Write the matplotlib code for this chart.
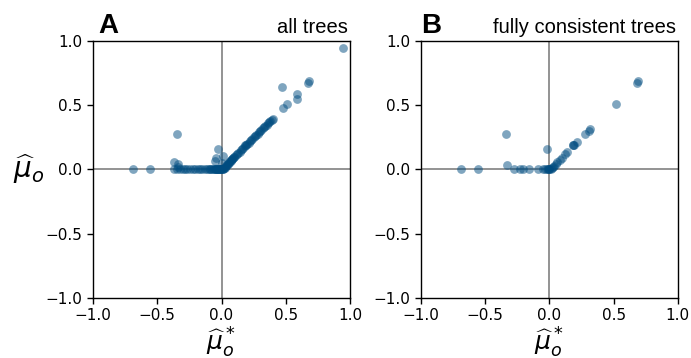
import matplotlib
matplotlib.use("Agg")
import matplotlib.pyplot as plt

# Panel A: all trees
a_x = [-0.69, -0.556, -0.367, -0.345, -0.323, -0.30, -0.284, -0.265, -0.245, -0.225,
       -0.206, -0.185, -0.167, -0.15, -0.128, -0.11, -0.10, -0.09, -0.08, -0.07,
       -0.06, -0.05, -0.045, -0.04, -0.035, -0.03, -0.025, -0.02, -0.015, -0.01,
       -0.005, 0.0,
       -0.344, -0.367, -0.336, -0.025, -0.043, -0.05, 0.009, -0.34, 0.0,
       0.01, 0.015, 0.02, 0.025, 0.03, 0.035, 0.04, 0.045, 0.05, 0.055, 0.06, 0.065,
       0.07, 0.075, 0.08, 0.085, 0.09, 0.095, 0.10, 0.11, 0.12, 0.13, 0.14, 0.15,
       0.16, 0.17, 0.18, 0.185, 0.19, 0.20, 0.21, 0.22, 0.23, 0.24, 0.25, 0.26,
       0.27, 0.28, 0.29, 0.30, 0.31, 0.32, 0.33, 0.34, 0.35, 0.36, 0.37, 0.38,
       0.39, 0.40,
       0.476, 0.512, 0.585, 0.585, 0.47, 0.675, 0.683, 0.948]
a_y = [0.0, 0.0, 0.0, 0.0, 0.0, 0.0, 0.0, 0.0, 0.0, 0.0,
       0.0, 0.0, 0.0, 0.0, 0.0, 0.0, 0.0, 0.0, 0.0, 0.0,
       0.0, 0.0, 0.0, 0.0, 0.0, 0.0, 0.0, 0.0, 0.0, 0.0,
       0.0, 0.0,
       0.28, 0.062, 0.042, 0.158, 0.088, 0.067, 0.106, 0.02, 0.05,
       0.003, 0.006, 0.01, 0.015, 0.02, 0.027, 0.034, 0.04, 0.046, 0.052, 0.057, 0.063,
       0.068, 0.074, 0.079, 0.084, 0.089, 0.094, 0.10, 0.11, 0.12, 0.13, 0.14, 0.15,
       0.16, 0.17, 0.18, 0.19, 0.19, 0.20, 0.21, 0.22, 0.23, 0.24, 0.25, 0.26,
       0.27, 0.28, 0.29, 0.30, 0.31, 0.32, 0.33, 0.34, 0.35, 0.36, 0.37, 0.38,
       0.385, 0.396,
       0.477, 0.513, 0.586, 0.547, 0.64, 0.676, 0.69, 0.948]

# Panel B: fully consistent trees
b_x = [-0.689, -0.554, -0.273, -0.228, -0.203, -0.156, -0.086, -0.047, -0.03, -0.02,
       -0.01, -0.005, 0.0,
       -0.34, -0.333, -0.02,
       0.01, 0.02, 0.03, 0.04, 0.05, 0.06, 0.08, 0.10, 0.12, 0.14,
       0.187, 0.187, 0.19, 0.218, 0.279, 0.305, 0.318, 0.517, 0.681, 0.689]
b_y = [0.0, 0.0, 0.0, 0.0, 0.0, 0.0, 0.0, 0.0, 0.0, 0.0,
       0.0, 0.0, 0.0,
       0.277, 0.036, 0.156,
       0.003, 0.01, 0.02, 0.03, 0.04, 0.055, 0.07, 0.09, 0.12, 0.14,
       0.189, 0.189, 0.19, 0.215, 0.275, 0.30, 0.313, 0.513, 0.675, 0.688]

ticks = [-1.0, -0.5, 0.0, 0.5, 1.0]
tick_labels = ["\u22121.0", "\u22120.5", "0.0", "0.5", "1.0"]
panel_letters = ["A", "B"]
panel_titles = ["all trees", "fully consistent trees"]

color = "#004c80"

fig = plt.figure(figsize=(6.91, 3.58), dpi=100)
ax1 = fig.add_axes([0.1346, 0.1676, 0.372, 0.7179])
ax2 = fig.add_axes([0.609, 0.1676, 0.372, 0.7179])

for ax, xs, ys, letter, title, lx in [(ax1, a_x, a_y, panel_letters[0], panel_titles[0], 0.02),
                                      (ax2, b_x, b_y, panel_letters[1], panel_titles[1], 0.0)]:
    ax.axhline(0, color="gray", lw=1.2, zorder=1)
    ax.axvline(0, color="gray", lw=1.2, zorder=1)
    ax.scatter(xs, ys, s=40, color=color, alpha=0.5, linewidths=0, zorder=2)
    ax.set_xlim(-1, 1)
    ax.set_ylim(-1, 1)
    ax.set_xticks(ticks)
    ax.set_yticks(ticks)
    ax.set_xticklabels(tick_labels, fontsize=11)
    ax.set_yticklabels(tick_labels, fontsize=11)
    ax.tick_params(length=4, width=1)
    for sp in ax.spines.values():
        sp.set_linewidth(1)
    ax.set_xlabel(r"$\widehat{\mu}_o^*$", fontsize=18, labelpad=2)
    ax.text(lx, 1.031, letter, transform=ax.transAxes, fontsize=20,
            fontweight="bold", family="Liberation Sans", ha="left", va="baseline")
    ax.text(0.992, 1.031, title, transform=ax.transAxes, fontsize=14.5,
            family="Liberation Sans", ha="right", va="baseline")

ax1.set_ylabel(r"$\widehat{\mu}_o$", fontsize=20, rotation=0, labelpad=12, va="center")

fig.savefig("out.png", dpi=100)
